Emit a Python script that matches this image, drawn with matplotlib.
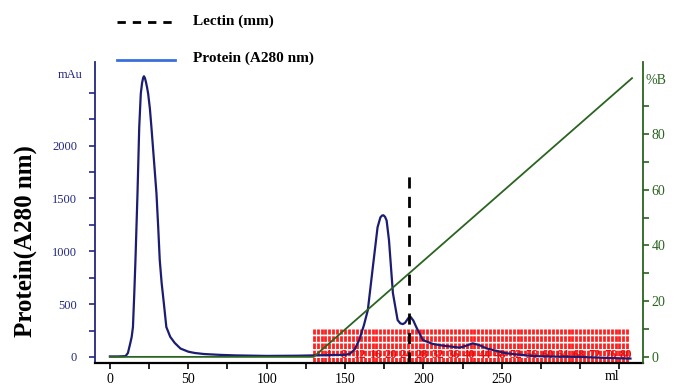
import numpy as np
import matplotlib
matplotlib.use('Agg')
import matplotlib.pyplot as plt
from matplotlib.lines import Line2D

plt.rcParams['font.family'] = ['Liberation Serif', 'DejaVu Serif']

# Protein absorbance (mAu)
ml = [0, 5, 10, 11.5, 13, 13.9, 14.7, 15.5, 16.3, 17.6, 18.7, 19.7, 20.5, 21.2,
      21.7, 22.3, 23, 23.7, 24.4, 25.5, 26.5, 28, 29.7, 30.8, 31.8, 33, 34.4,
      36, 38.5, 41.4, 45, 50, 54, 60, 70, 80,
      100, 120, 130, 140, 150, 153, 156, 159, 162, 164.5, 167.7, 170.7, 172.5,
      173.6, 174.5, 175.5, 176.5, 178, 180.5, 183.5, 185.2, 186.8, 188.2, 189.5,
      190.7, 191.7, 193.5, 195.3, 199.6, 206,
      212, 218.5, 223, 227, 231.4, 236, 240, 252.7, 269.5, 285, 301, 315, 332]
mau = [5, 5, 8, 38, 130, 190, 283, 580, 915, 1547, 2170, 2490, 2590, 2640,
       2655, 2640, 2600, 2550, 2490, 2350, 2170, 1880, 1547, 1230, 915, 700, 509,
       283, 190, 132, 80, 50, 38, 28, 20, 15,
       10, 12, 15, 18, 20, 30, 70, 160, 300, 443, 850, 1226, 1320,
       1338, 1340, 1325, 1290, 1104, 604, 349, 318, 311, 322, 350,
       375, 380, 345, 286, 160, 123,
       108, 97, 88, 105, 129, 110, 82, 35, 9, 3, 0, -8, -15]

# gradient %B
grad_ml = [0, 130, 333]
grad_b = [0, 0, 100]

# lectin marker
lectin_ml = 190.7
lectin_top = 1780

# fraction collector
frac_start = 130
frac_step = 2.5
frac_count = 81
frac_labels = list(range(4, 81, 4))

navy = '#23287e'
green = '#2a6420'
red = '#ff2020'

fig = plt.figure(figsize=(6.76, 3.85), dpi=100)
ax = fig.add_axes([95/676, 1-363/385, 548/676, 301/385])
ax2 = ax.twinx()

ax.set_xlim(-9.5, 340)
ax.set_ylim(-57, 2790)
ax2.set_ylim(-2.2, 105.8)

# fraction marks
fx = [frac_start + frac_step*i for i in range(frac_count)]
ax.vlines(fx, -57, 264, colors=red, linestyles=(0, (2.0, 0.6)), lw=2.0, zorder=1)
for n in frac_labels:
    ax.text(frac_start + frac_step*n - 1, 20, str(n), color='#e01010', fontsize=9,
            fontweight='bold', ha='center', va='center', zorder=2)

ax2.plot(grad_ml, grad_b, color=green, lw=1.3, zorder=3)
ax.plot(ml, mau, color='#1b1d72', lw=1.6, zorder=4)
ax.plot([lectin_ml, lectin_ml], [-57, lectin_top], color='black', lw=2, ls=(0, (4, 3)), zorder=5)

# axes styling
ax.spines['top'].set_visible(False)
ax2.spines['top'].set_visible(False)
ax.spines['left'].set_color(navy)
ax.spines['left'].set_linewidth(1.3)
ax.spines['bottom'].set_linewidth(1.6)
ax2.spines['right'].set_color(green)
ax2.spines['right'].set_linewidth(1.3)
ax2.spines['left'].set_visible(False)
ax2.spines['bottom'].set_visible(False)
ax.spines['right'].set_visible(False)

ax.set_xticks([0, 50, 100, 150, 200, 250, 300])
ax.set_xticklabels(['0', '50', '100', '150', '200', '250', ''])
ax.set_xticks([25, 75, 125, 175, 225, 275, 325], minor=True)
ax.tick_params(axis='x', which='both', length=4, width=1.2, labelsize=10, pad=3)

ax.set_yticks([0, 500, 1000, 1500, 2000])
ax.set_yticks([250, 750, 1250, 1750, 2250, 2500], minor=True)
ax.tick_params(axis='y', which='both', length=4, width=1.2, colors=navy, labelsize=9, pad=9)

ax2.set_yticks([0, 20, 40, 60, 80])
ax2.set_yticks([10, 30, 50, 70, 90], minor=True)
ax2.tick_params(axis='y', which='both', length=4, width=1.2, colors=green, labelsize=10, pad=2)

fig.text(612/676, 1-376/385, 'ml', fontsize=10, ha='center', va='center')
fig.text(70/676, 1-75/385, 'mAu', color=navy, fontsize=9, ha='center', va='center')
fig.text(656/676, 1-80/385, '%B', color=green, fontsize=10, ha='center', va='center')

fig.text(25/676, 1-241/385, 'Protein(A280 nm)', rotation=90, fontsize=18, fontweight='bold',
         ha='center', va='center')

# legend drawn above the axes
fig.add_artist(Line2D([117/676, 175/676], [1-22/385, 1-22/385], color='black', lw=2,
                      ls=(0, (3, 2.5)), transform=fig.transFigure))
fig.text(193/676, 1-21/385, 'Lectin (mm)', fontsize=11, fontweight='bold', va='center')
fig.add_artist(Line2D([117/676, 175/676], [1-60/385, 1-60/385], color='#3b6fe0', lw=2,
                      transform=fig.transFigure))
fig.text(193/676, 1-58/385, 'Protein (A280 nm)', fontsize=11, fontweight='bold', va='center')

fig.savefig('out.png', dpi=100)
